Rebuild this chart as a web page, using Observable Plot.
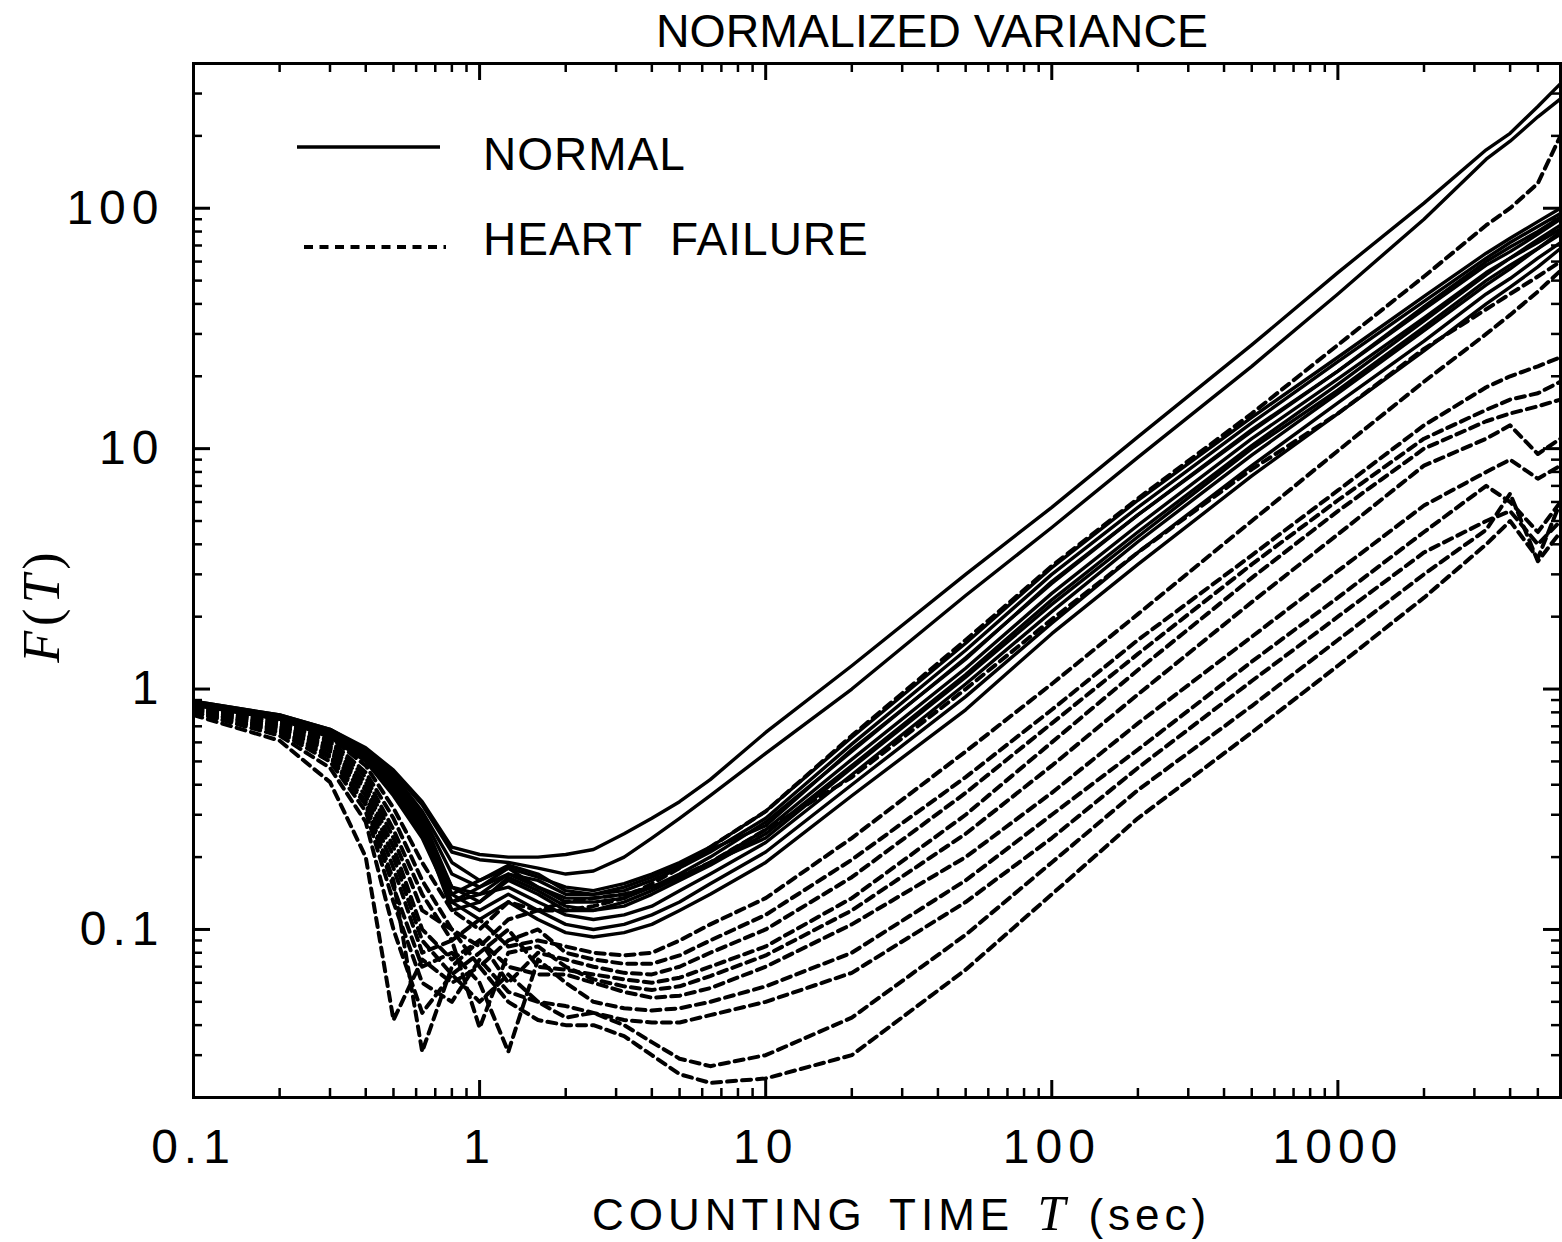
<!DOCTYPE html>
<html>
<head>
<meta charset="utf-8">
<script src="https://cdn.jsdelivr.net/npm/d3@7"></script>
<script src="https://cdn.jsdelivr.net/npm/@observablehq/plot@0.6"></script>
<style>
  html, body { margin: 0; padding: 0; background: #fff; overflow: hidden; }
  #wrap { position: relative; width: 1562px; height: 1242px; }
  #wrap svg.plot { position: absolute; left: 0; top: 0; }
  .ov { position: absolute; white-space: nowrap; line-height: 0; color: #000;
        font-family: "Liberation Sans", Arial, Helvetica, sans-serif; }
  .it { font-family: "Liberation Serif", "Times New Roman", serif; font-style: italic; }
</style>
</head>
<body>
<div id="wrap"></div>
<script>
// ---- data -------------------------------------------------------------
const T = [0.1, 0.2, 0.3, 0.4, 0.5, 0.63, 0.8, 1.0, 1.26, 1.6, 2.0, 2.5, 3.2, 4, 5, 6.4, 10,
           20, 50, 100, 200, 500, 1000, 2000, 3300, 4000, 5000, 6000];

// NORMAL subjects (solid)
const n01 = [0.89,0.78,0.68,0.57,0.46,0.34,0.22,0.205,0.2,0.2,0.205,0.215,0.25,0.29,0.34,0.42,0.66, 1.25,3.0,5.7,11.2,27,54,105,175,205,265,330];
const n02 = [0.89,0.78,0.68,0.56,0.45,0.33,0.21,0.195,0.19,0.18,0.17,0.175,0.2,0.24,0.29,0.36,0.54, 1.0,2.45,4.7,9.2,22,44,90,160,190,240,285];
const n03 = [0.88,0.77,0.67,0.55,0.43,0.3,0.17,0.15,0.18,0.165,0.15,0.145,0.155,0.17,0.19,0.22,0.31, 0.63,1.55,3.2,6.1,13.5,24,43,65,75,88,100];
const n04 = [0.88,0.77,0.66,0.54,0.42,0.29,0.15,0.14,0.17,0.16,0.14,0.14,0.145,0.16,0.18,0.21,0.29, 0.59,1.45,3.0,5.7,12.8,23,41,62,72,84,95];
const n05 = [0.87,0.76,0.66,0.54,0.41,0.28,0.14,0.16,0.18,0.15,0.13,0.13,0.135,0.15,0.17,0.2,0.28, 0.55,1.35,2.75,5.3,12,21,38,58,66,78,90];
const n06 = [0.87,0.76,0.65,0.53,0.4,0.27,0.13,0.15,0.17,0.15,0.135,0.135,0.14,0.15,0.165,0.19,0.26, 0.51,1.22,2.5,4.8,11,19.5,35,54,62,72,82];
const n07 = [0.87,0.76,0.65,0.52,0.39,0.26,0.12,0.13,0.16,0.14,0.12,0.12,0.125,0.14,0.16,0.185,0.25, 0.48,1.15,2.35,4.5,10.3,18.5,34,53,62,74,85];
const n08 = [0.86,0.75,0.64,0.52,0.38,0.25,0.13,0.14,0.15,0.13,0.115,0.11,0.115,0.125,0.145,0.17,0.23, 0.44,1.05,2.1,4.1,9.4,17,31,48,56,68,80];
const n09 = [0.86,0.75,0.64,0.51,0.37,0.25,0.14,0.12,0.14,0.12,0.105,0.1,0.105,0.115,0.13,0.155,0.21, 0.4,0.93,1.88,3.7,8.5,15.5,28,44,51,62,72];
const n10 = [0.86,0.75,0.63,0.5,0.36,0.24,0.13,0.11,0.13,0.11,0.097,0.093,0.097,0.105,0.12,0.14,0.19, 0.36,0.82,1.7,3.3,7.7,14,25.5,40,47,57,68];
const n11 = [0.88,0.77,0.67,0.55,0.44,0.31,0.19,0.16,0.185,0.17,0.145,0.14,0.15,0.165,0.185,0.215,0.27, 0.56,1.33,2.8,5.3,11.8,21,39,60,69,80,92];
const n12 = [0.87,0.76,0.65,0.53,0.4,0.27,0.15,0.13,0.165,0.145,0.125,0.12,0.13,0.145,0.165,0.19,0.24, 0.47,1.12,2.25,4.3,10,17.5,32,50,58,68,78];

// HEART FAILURE patients (dashed)
const h01 = [0.86,0.75,0.63,0.48,0.32,0.19,0.12,0.1,0.13,0.12,0.12,0.125,0.135,0.155,0.18,0.22,0.31, 0.64,1.6,3.25,6.2,14,27,52,85,100,127,200];
const h02 = [0.85,0.74,0.61,0.45,0.29,0.16,0.1,0.085,0.11,0.12,0.13,0.135,0.14,0.15,0.165,0.19,0.26, 0.43,1.0,1.95,3.7,8.2,14,26,38,44,52,60];
const h03 = [0.84,0.73,0.6,0.43,0.26,0.14,0.09,0.11,0.085,0.09,0.085,0.08,0.078,0.08,0.09,0.105,0.135, 0.24,0.55,1.05,2.05,5.0,9.8,19,30,36,45,55];
const h04 = [0.84,0.72,0.58,0.41,0.24,0.12,0.1,0.07,0.09,0.1,0.08,0.075,0.072,0.072,0.078,0.09,0.115, 0.195,0.43,0.82,1.6,3.6,6.7,12.5,18,20,22,24];
const h05 = [0.83,0.71,0.57,0.39,0.22,0.1,0.075,0.09,0.06,0.08,0.075,0.07,0.066,0.065,0.07,0.08,0.1, 0.165,0.37,0.72,1.4,3.3,6.1,11,14.5,16,17,19];
const h06 = [0.83,0.7,0.56,0.38,0.2,0.09,0.065,0.08,0.1,0.07,0.068,0.065,0.062,0.06,0.063,0.07,0.085, 0.135,0.3,0.6,1.2,2.9,5.5,10,13,14,15,16];
const h07 = [0.82,0.69,0.55,0.36,0.18,0.08,0.09,0.039,0.08,0.085,0.07,0.062,0.058,0.056,0.058,0.064,0.078, 0.12,0.25,0.48,0.95,2.3,4.4,8.5,11,12.5,9.5,11];
const h08 = [0.82,0.68,0.53,0.34,0.16,0.031,0.07,0.09,0.07,0.065,0.065,0.06,0.055,0.052,0.053,0.057,0.07, 0.105,0.2,0.37,0.72,1.65,3.1,5.8,8,9,7.5,8.5];
const h09 = [0.81,0.67,0.52,0.33,0.15,0.07,0.08,0.06,0.031,0.075,0.06,0.05,0.047,0.046,0.047,0.05,0.058, 0.08,0.16,0.3,0.56,1.3,2.4,4.5,7,6,4.5,6];
const h10 = [0.8,0.66,0.5,0.31,0.13,0.06,0.05,0.075,0.055,0.05,0.048,0.045,0.042,0.041,0.041,0.044,0.05, 0.066,0.13,0.24,0.47,1.08,2.0,3.7,5.0,5.5,4.0,5];
const h11 = [0.8,0.64,0.47,0.28,0.1,0.045,0.065,0.05,0.065,0.05,0.043,0.045,0.04,0.034,0.029,0.027,0.03, 0.043,0.095,0.19,0.38,0.85,1.6,3.0,4.6,6.5,3.4,4.5];
const h12 = [0.78,0.61,0.41,0.2,0.042,0.075,0.06,0.07,0.05,0.042,0.04,0.04,0.036,0.03,0.025,0.023,0.024, 0.03,0.068,0.14,0.29,0.66,1.25,2.4,4.0,5.0,3.5,6.0];

// axis ticks
const xLabels = [0.1, 1, 10, 100, 1000];
const xMinor = [0.2,0.3,0.4,0.5,0.6,0.7,0.8,0.9, 2,3,4,5,6,7,8,9, 20,30,40,50,60,70,80,90,
                200,300,400,500,600,700,800,900, 2000,3000,4000,5000];
const yLabels = [0.1, 1, 10, 100];
const yMinor = [0.02,0.03,0.04,0.05,0.06,0.07,0.08,0.09, 0.2,0.3,0.4,0.5,0.6,0.7,0.8,0.9,
                2,3,4,5,6,7,8,9, 20,30,40,50,60,70,80,90, 200,300,400];

// ---- build long tables ------------------------------------------------
const normalSeries = [n01,n02,n03,n04,n05,n06,n07,n08,n09,n10,n11,n12];
const hfSeries = [h01,h02,h03,h04,h05,h06,h07,h08,h09,h10,h11,h12];
const toRows = (list, prefix) => list.flatMap((vals, i) =>
  T.map((t, j) => ({T: t, F: vals[j], id: prefix + i})).filter(d => d.F != null));
const normalRows = toRows(normalSeries, "N");
const hfRows = toRows(hfSeries, "H");

// ---- plot -------------------------------------------------------------
const W = 1562, H = 1242;
const mL = 193, mR = 2, mT = 63, mB = 145;
const fw = W - mL - mR, fh = H - mT - mB;
const majLen = 17, minLen = 9;

const chart = Plot.plot({
  width: W, height: H,
  marginLeft: mL, marginRight: mR, marginTop: mT, marginBottom: mB,
  style: {fontFamily: "'Liberation Sans', Arial, Helvetica, sans-serif", fontSize: "48px",
          letterSpacing: "6px", color: "#000", background: "#fff"},
  x: {type: "log", domain: [0.1, 6000]},
  y: {type: "log", domain: [0.02, 400]},
  marks: [
    Plot.line(hfRows, {x: "T", y: "F", z: "id", stroke: "#000", strokeWidth: 4,
      strokeDasharray: "9,6", clip: true}),
    Plot.line(normalRows, {x: "T", y: "F", z: "id", stroke: "#000", strokeWidth: 3.4,
      strokeLinejoin: "round", clip: true}),
    // inward ticks on all four sides
    Plot.tickX(xLabels, {x: d => d, insetTop: fh - majLen, strokeWidth: 3}),
    Plot.tickX(xMinor, {x: d => d, insetTop: fh - minLen, strokeWidth: 2.5}),
    Plot.tickX(xLabels, {x: d => d, insetBottom: fh - majLen, strokeWidth: 3}),
    Plot.tickX(xMinor, {x: d => d, insetBottom: fh - minLen, strokeWidth: 2.5}),
    Plot.tickY(yLabels, {y: d => d, insetRight: fw - majLen, strokeWidth: 3}),
    Plot.tickY(yMinor, {y: d => d, insetRight: fw - minLen, strokeWidth: 2.5}),
    Plot.tickY(yLabels, {y: d => d, insetLeft: fw - majLen, strokeWidth: 3}),
    Plot.tickY(yMinor, {y: d => d, insetLeft: fw - minLen, strokeWidth: 2.5}),
    Plot.axisX({ticks: xLabels, tickSize: 0, tickPadding: 31, tickFormat: d => String(d), label: null}),
    Plot.axisY({ticks: yLabels, tickSize: 0, tickPadding: 29, tickFormat: d => String(d), label: null}),
    Plot.frame({stroke: "#000", strokeWidth: 3})
  ]
});
chart.classList.add("plot");
const wrap = document.getElementById("wrap");
wrap.appendChild(chart);

// ---- title, legend, axis titles (HTML overlays) -----------------------
function addText(html, left, baseline, fs, extra = "") {
  const d = document.createElement("div");
  d.className = "ov";
  d.style.cssText = `left:${left}px; top:${baseline - 0.3465 * fs}px; font-size:${fs}px; ${extra}`;
  d.innerHTML = html;
  wrap.appendChild(d);
  return d;
}
// title
addText("NORMALIZED VARIANCE", 656, 47, 46.5);
// legend
addText("NORMAL", 483, 170, 46, "letter-spacing:1px;");
addText("HEART FAILURE", 483, 255, 46, "letter-spacing:1px; word-spacing:14px;");
const sw = document.createElementNS("http://www.w3.org/2000/svg", "svg");
sw.setAttribute("width", W); sw.setAttribute("height", 300);
sw.style.cssText = "position:absolute;left:0;top:0;pointer-events:none";
sw.innerHTML = `<line x1="297" x2="440" y1="147" y2="147" stroke="#000" stroke-width="3.6"/>
  <line x1="304" x2="446" y1="247" y2="247" stroke="#000" stroke-width="4.2" stroke-dasharray="9,6.5"/>`;
wrap.appendChild(sw);
// x-axis title
addText('COUNTING TIME <span class="it" style="font-size:50px;letter-spacing:0">T</span> (sec)', 592, 1228, 44,
        "letter-spacing:5px; word-spacing:6px;");
// y-axis title (rotated)
const yl = document.createElement("div");
yl.style.cssText = "position:absolute; left:42px; top:605px; transform:translate(-50%,-50%) rotate(-90deg);" +
  "white-space:nowrap; line-height:1; font-size:52px; letter-spacing:5px; font-family:'Liberation Serif','Times New Roman',serif;";
yl.innerHTML = '<span class="it">F</span>(<span class="it">T</span>)';
wrap.appendChild(yl);
</script>
</body>
</html>
